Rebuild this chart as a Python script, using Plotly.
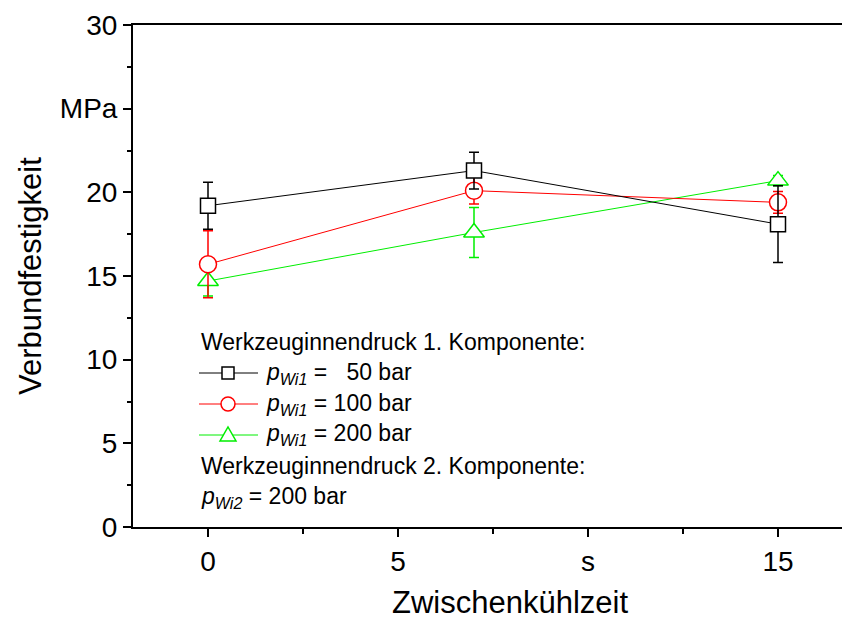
import plotly.graph_objects as go

# Zwischenkühlzeit (s)
cool_time = [0, 7, 15]

# Verbundfestigkeit (MPa) and standard deviations per Werkzeuginnendruck
p50_mean = [19.2, 21.3, 18.1]
p50_err = [1.4, 1.1, 2.3]
p100_mean = [15.7, 20.1, 19.4]
p100_err = [2.0, 0.8, 0.65]
p200_mean = [14.7, 17.6, 20.7]
p200_err = [0.9, 1.5, 0.3]

x_tickvals = [0, 5, 10, 15]
x_ticktext = ["0", "5", "s", "15"]
y_tickvals = [0, 5, 10, 15, 20, 25, 30]
y_ticktext = ["0", "5", "10", "15", "20", "MPa", "30"]

W, H = 842, 619
L, R, T, B = 133, 0, 25, 92
PW, PH = W - L - R, H - T - B
FONT = "Liberation Sans, Arial, sans-serif"


def px(x):
    return (x - L) / PW


def py(y):
    return (H - B - y) / PH


series = [
    ("200", p200_mean, p200_err, "#00ee00", "triangle-up", 18),
    ("100", p100_mean, p100_err, "#ff0000", "circle", 17),
    ("50", p50_mean, p50_err, "#000000", "square", 15),
]

fig = go.Figure()
for name, ys, es, col, sym, size in series:
    fig.add_trace(go.Scatter(
        x=cool_time, y=ys, name=name, mode="lines+markers",
        line=dict(color=col, width=1),
        marker=dict(symbol=sym, size=size, color="white",
                    line=dict(color=col, width=1.5)),
        error_y=dict(type="data", array=es, visible=True, color=col,
                     thickness=1.5, width=5),
        showlegend=False,
    ))

axis_common = dict(showline=True, linecolor="black", linewidth=2,
                   ticks="outside", tickcolor="black", tickwidth=1.5,
                   ticklen=8, showgrid=False, zeroline=False,
                   tickfont=dict(family=FONT, size=28, color="black"))

fig.update_xaxes(range=[-(208 - L) / 38, (W - 208) / 38],
                 tickmode="array", tickvals=x_tickvals, ticktext=x_ticktext,
                 mirror=True,
                 minor=dict(tickmode="linear", tick0=0, dtick=2.5,
                            ticks="outside", ticklen=5, tickwidth=1.5,
                            tickcolor="black"),
                 **axis_common)
fig.update_yaxes(range=[0, 30], tickmode="array", tickvals=y_tickvals,
                 ticktext=y_ticktext,
                 minor=dict(tickmode="linear", tick0=0, dtick=2.5,
                            ticks="outside", ticklen=4, tickwidth=1.5,
                            tickcolor="black"),
                 **axis_common)

annotations = [
    dict(text="Zwischenkühlzeit", x=px(510), y=py(602), xref="paper",
         yref="paper", showarrow=False, xanchor="center", yanchor="middle",
         borderpad=0, font=dict(family=FONT, size=31, color="black")),
    dict(text="Verbundfestigkeit", x=px(30), y=py(276), xref="paper",
         yref="paper", showarrow=False, xanchor="center", yanchor="middle",
         textangle=-90, font=dict(family=FONT, size=31, color="black")),
]

# Legend block
leg_font = dict(family=FONT, size=23, color="black")
sub1 = "<i>p</i><sub><i>Wi1</i></sub>"
legend_rows = [
    (342, 199, "Werkzeuginnendruck 1. Komponente:"),
    (373, 264, sub1 + " = \u200750 bar"),
    (404, 264, sub1 + " = 100 bar"),
    (435, 264, sub1 + " = 200 bar"),
    (466, 199, "Werkzeuginnendruck 2. Komponente:"),
    (497, 199, "<i>p</i><sub><i>Wi2</i></sub> = 200 bar"),
]
for yy, xx, txt in legend_rows:
    annotations.append(dict(text=txt, x=px(xx), y=py(yy), xref="paper",
                            yref="paper", showarrow=False, xanchor="left",
                            yanchor="middle", align="left", font=leg_font))

shapes = []
sample_rows = [(373, "#000000", "square"), (404, "#ff0000", "circle"),
               (435, "#00ee00", "triangle")]
for yy, col, kind in sample_rows:
    shapes.append(dict(type="line", xref="paper", yref="paper",
                       x0=px(199), x1=px(258), y0=py(yy), y1=py(yy),
                       line=dict(color=col, width=1)))
    cx = 228
    if kind == "square":
        shapes.append(dict(type="rect", xref="paper", yref="paper",
                           x0=px(cx - 6), x1=px(cx + 6), y0=py(yy + 6),
                           y1=py(yy - 6), fillcolor="white",
                           line=dict(color=col, width=1.5)))
    elif kind == "circle":
        shapes.append(dict(type="circle", xref="paper", yref="paper",
                           x0=px(cx - 7), x1=px(cx + 7), y0=py(yy + 7),
                           y1=py(yy - 7), fillcolor="white",
                           line=dict(color=col, width=1.5)))
    else:
        path = "M {} {} L {} {} L {} {} Z".format(
            px(cx - 8), py(yy + 6), px(cx + 8), py(yy + 6), px(cx), py(yy - 8))
        shapes.append(dict(type="path", xref="paper", yref="paper",
                           path=path, fillcolor="white",
                           line=dict(color=col, width=1.5)))

fig.update_layout(width=W, height=H, margin=dict(l=L, r=R, t=T, b=B),
                  plot_bgcolor="white", paper_bgcolor="white",
                  font=dict(family=FONT, color="black"),
                  annotations=annotations, shapes=shapes)

fig.write_html("out.html")
